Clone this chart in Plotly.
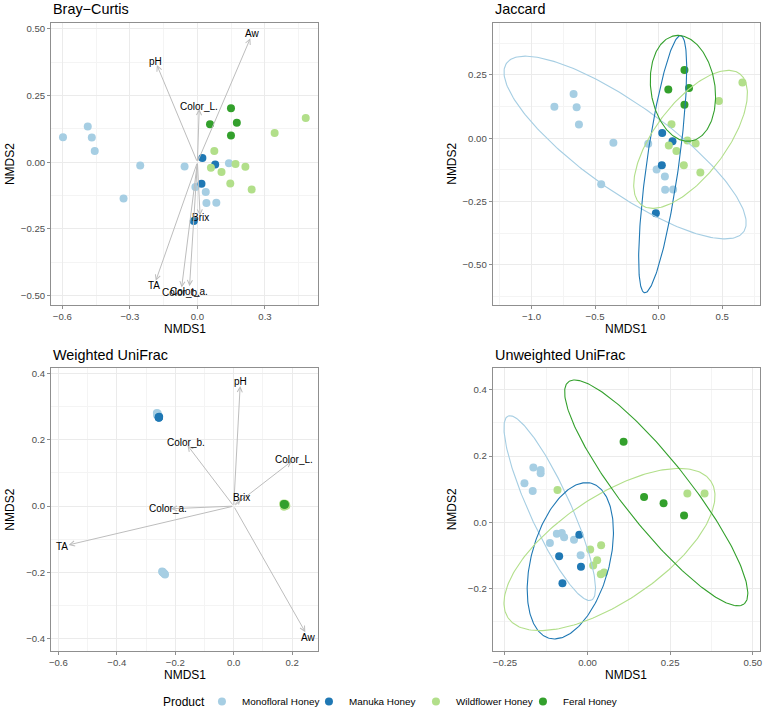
import numpy as np
import plotly.graph_objects as go

# ---------------- data ----------------
groups = ["Monofloral Honey", "Manuka Honey", "Wildflower Honey", "Feral Honey"]
group_colors = ["#A6CEE3", "#1F78B4", "#B2DF8A", "#33A02C"]

# Bray-Curtis
bc_mono_x = [-0.597, -0.487, -0.469, -0.456, -0.254, -0.328, -0.057, -0.009, 0.037, 0.040, 0.084, 0.140]
bc_mono_y = [0.094, 0.134, 0.093, 0.042, -0.012, -0.136, -0.016, -0.093, -0.112, -0.153, -0.152, -0.004]
bc_manuka_x = [0.022, 0.079, 0.018, -0.016]
bc_manuka_y = [0.016, -0.008, -0.081, -0.220]
bc_wild_x = [0.481, 0.343, 0.075, 0.060, 0.107, 0.169, 0.213, 0.146, 0.241]
bc_wild_y = [0.166, 0.110, 0.042, -0.021, -0.037, -0.007, -0.017, -0.080, -0.102]
bc_feral_x = [0.149, 0.056, 0.175, 0.149]
bc_feral_y = [0.203, 0.143, 0.148, 0.100]

# Jaccard
ja_mono_x = [-0.820, -0.669, -0.645, -0.627, -0.356, -0.452, -0.082, -0.016, 0.049, 0.051, 0.114]
ja_mono_y = [0.124, 0.175, 0.122, 0.054, -0.018, -0.182, -0.022, -0.124, -0.152, -0.204, -0.203]
ja_manuka_x = [0.028, 0.109, 0.025, -0.022]
ja_manuka_y = [0.020, -0.012, -0.107, -0.297]
ja_wild_x = [0.659, 0.474, 0.101, 0.080, 0.140, 0.226, 0.291, 0.198, 0.328]
ja_wild_y = [0.220, 0.147, 0.055, -0.029, -0.051, -0.009, -0.021, -0.107, -0.136]
ja_feral_x = [0.203, 0.076, 0.239, 0.203]
ja_feral_y = [0.270, 0.192, 0.198, 0.132]

# Weighted UniFrac
wu_mono_x = [-0.263, -0.262, -0.261, -0.260, -0.262, -0.261, -0.245, -0.243, -0.240, -0.237, -0.235, -0.242]
wu_mono_y = [0.281, 0.278, 0.276, 0.279, 0.274, 0.277, -0.197, -0.199, -0.202, -0.204, -0.206, -0.200]
wu_manuka_x = [-0.257, -0.256, -0.255, -0.256]
wu_manuka_y = [0.268, 0.267, 0.269, 0.266]
wu_wild_x = [0.169, 0.178, 0.175, 0.171, 0.180, 0.172, 0.179, 0.174, 0.177]
wu_wild_y = [0.006, 0.001, 0.004, 0.008, 0.001, -0.002, 0.003, 0.002, 0.007]
wu_feral_x = [0.172, 0.174, 0.173, 0.175]
wu_feral_y = [0.006, 0.005, 0.004, 0.005]

# Unweighted UniFrac
uu_mono_x = [-0.164, -0.142, -0.142, -0.191, -0.166, -0.093, -0.078, -0.071, -0.114, -0.041, -0.021]
uu_mono_y = [0.165, 0.158, 0.148, 0.118, 0.094, -0.035, -0.033, -0.046, -0.063, -0.053, -0.100]
uu_manuka_x = [-0.025, -0.086, -0.020, -0.076]
uu_manuka_y = [-0.038, -0.103, -0.135, -0.185]
uu_wild_x = [-0.091, 0.008, 0.041, 0.029, 0.017, 0.040, 0.050, 0.302, 0.354]
uu_wild_y = [0.097, -0.083, -0.070, -0.115, -0.131, -0.158, -0.152, 0.087, 0.087]
uu_feral_x = [0.109, 0.171, 0.230, 0.292]
uu_feral_y = [0.243, 0.076, 0.057, 0.020]

# Environmental fit vectors
env_names = ["Aw", "pH", "Color_L.", "Brix", "TA", "Color_a.", "Color_b."]
bc_env_x = [0.235, -0.180, 0.008, 0.012, -0.185, -0.035, -0.070]
bc_env_y = [0.465, 0.365, 0.200, -0.200, -0.445, -0.465, -0.470]
wu_env_x = [0.245, 0.022, 0.198, 0.024, -0.565, -0.215, -0.158]
wu_env_y = [-0.380, 0.362, 0.135, 0.024, -0.117, -0.008, 0.183]

# 95% ellipses: centre, first and second half-axis vectors (data units)
ja_ell_center = [(-0.264, -0.037), (0.0318, -0.1027), (0.251, -0.0046), (0.191, 0.197)]
ja_ell_a = [(0.9317, -0.3336), (0.1417, 0.5084), (0.386, 0.2594), (0.0613, -0.2085)]
ja_ell_b = [(-0.1972, -0.1386), (0.1252, -0.0088), (0.2257, -0.0846), (-0.2494, -0.0185)]
uu_ell_center = [(-0.1145, 0.0424), (-0.0522, -0.1169), (0.0663, -0.0828), (0.2078, 0.0885)]
uu_ell_a = [(0.1263, -0.2784), (0.0636, 0.2344), (0.3065, 0.2072), (0.2658, -0.3360)]
uu_ell_b = [(-0.0570, -0.0257), (0.1140, -0.0308), (0.0894, -0.1316), (-0.0787, -0.0620)]

panel_titles = ["Bray\u2212Curtis", "Jaccard", "Weighted UniFrac", "Unweighted UniFrac"]
legend_title = "Product"

# ---------------- figure ----------------
W, H = 767, 716
FONT = "Liberation Sans, Arial, Helvetica, sans-serif"

fig = go.Figure()

panels = [
    ("x", "y", [(bc_mono_x, bc_mono_y), (bc_manuka_x, bc_manuka_y), (bc_wild_x, bc_wild_y), (bc_feral_x, bc_feral_y)]),
    ("x2", "y2", [(ja_mono_x, ja_mono_y), (ja_manuka_x, ja_manuka_y), (ja_wild_x, ja_wild_y), (ja_feral_x, ja_feral_y)]),
    ("x3", "y3", [(wu_mono_x, wu_mono_y), (wu_manuka_x, wu_manuka_y), (wu_wild_x, wu_wild_y), (wu_feral_x, wu_feral_y)]),
    ("x4", "y4", [(uu_mono_x, uu_mono_y), (uu_manuka_x, uu_manuka_y), (uu_wild_x, uu_wild_y), (uu_feral_x, uu_feral_y)]),
]


def ellipse_path(c, a, b, n=241):
    t = np.linspace(0, 2 * np.pi, n)
    return (c[0] + a[0] * np.cos(t) + b[0] * np.sin(t),
            c[1] + a[1] * np.cos(t) + b[1] * np.sin(t))


for pi, (xa, ya, series) in enumerate(panels):
    for gi, (xs, ys) in enumerate(series):
        fig.add_trace(go.Scatter(
            x=xs, y=ys, mode="markers", xaxis=xa, yaxis=ya,
            name=groups[gi], legendgroup=groups[gi], showlegend=(pi == 0),
            marker=dict(color=group_colors[gi], size=8, line=dict(width=0)),
            hoverinfo="skip"))

for xa, ya, centers, avs, bvs in [("x2", "y2", ja_ell_center, ja_ell_a, ja_ell_b),
                                   ("x4", "y4", uu_ell_center, uu_ell_a, uu_ell_b)]:
    for gi in range(4):
        ex, ey = ellipse_path(centers[gi], avs[gi], bvs[gi])
        fig.add_trace(go.Scatter(
            x=ex, y=ey, mode="lines", xaxis=xa, yaxis=ya, showlegend=False,
            line=dict(color=group_colors[gi], width=1.1), hoverinfo="skip"))

annotations = []
ARROW_C = "#BDBDBD"
LABEL_K = 1.04
for xa, ya, ex, ey in [("x", "y", bc_env_x, bc_env_y), ("x3", "y3", wu_env_x, wu_env_y)]:
    for name, vx, vy in zip(env_names, ex, ey):
        annotations.append(dict(
            x=vx, y=vy, ax=0, ay=0, xref=xa, yref=ya, axref=xa, ayref=ya,
            text="", showarrow=True, arrowhead=5, arrowsize=1.0, arrowwidth=1,
            arrowcolor=ARROW_C, standoff=0, startstandoff=0))
        annotations.append(dict(
            x=vx * LABEL_K, y=vy * LABEL_K, xref=xa, yref=ya, text=name,
            showarrow=False, font=dict(family=FONT, size=10, color="#000000"),
            xanchor="center", yanchor="middle"))

# pixel layout of panels
px_boxes = [
    (49.3, 318.0, 23.0, 307.0),
    (493.3, 761.7, 23.0, 307.0),
    (49.3, 317.7, 370.7, 655.3),
    (493.3, 761.7, 370.7, 655.3),
]
x_ranges = [(-0.65, 0.537), (-1.305, 0.795), (-0.625, 0.2885), (-0.287, 0.521)]
y_ranges = [(-0.535, 0.523), (-0.659, 0.456), (-0.436, 0.416), (-0.389, 0.466)]
x_dticks = [0.3, 0.5, 0.2, 0.25]
y_dticks = [0.25, 0.25, 0.2, 0.2]
x_fmts = [".1f", ".1f", ".1f", ".2f"]
y_fmts = [".2f", ".2f", ".1f", ".1f"]

BORDER = "#8F8F8F"
GRID = "#EBEBEB"
MINOR = "#F4F4F4"
TICKF = dict(family=FONT, size=9.6, color="#4D4D4D")

layout_axes = {}
for i in range(4):
    x0, x1, y0, y1 = px_boxes[i]
    sx = "" if i == 0 else str(i + 1)
    common = dict(showline=True, linecolor=BORDER, linewidth=1, mirror=True,
                  ticks="outside", ticklen=3, tickcolor=BORDER, tickwidth=1,
                  showgrid=True, gridcolor=GRID, gridwidth=1, zeroline=False,
                  tickfont=TICKF, tickmode="linear", tick0=0)
    layout_axes["xaxis" + sx] = dict(
        common, domain=[x0 / W, x1 / W], range=list(x_ranges[i]),
        dtick=x_dticks[i], tickformat=x_fmts[i], anchor="y" + sx,
        minor=dict(dtick=x_dticks[i] / 2, showgrid=True, gridcolor=MINOR, gridwidth=1))
    layout_axes["yaxis" + sx] = dict(
        common, domain=[1 - y1 / H, 1 - y0 / H], range=list(y_ranges[i]),
        dtick=y_dticks[i], tickformat=y_fmts[i], anchor="x" + sx,
        minor=dict(dtick=y_dticks[i] / 2, showgrid=True, gridcolor=MINOR, gridwidth=1))

    # panel title
    annotations.append(dict(
        x=x0 / W, y=1 - (y0 - 13.5) / H, xref="paper", yref="paper",
        text=panel_titles[i], showarrow=False, xanchor="left", yanchor="middle",
        font=dict(family=FONT, size=14.4, color="#000000")))
    # axis titles
    annotations.append(dict(
        x=(x0 + x1) / 2 / W, y=1 - (y1 + 24.5) / H, xref="paper", yref="paper",
        text="NMDS1", showarrow=False, xanchor="center", yanchor="middle",
        font=dict(family=FONT, size=12, color="#000000")))
    annotations.append(dict(
        x=(x0 - 41) / W, y=1 - (y0 + y1) / 2 / H, xref="paper", yref="paper",
        text="NMDS2", showarrow=False, xanchor="center", yanchor="middle", textangle=-90,
        font=dict(family=FONT, size=12, color="#000000")))

# legend title as a text beside the legend entries
annotations.append(dict(
    x=182.5 / W, y=1 - 706.5 / H, xref="paper", yref="paper", text=legend_title,
    showarrow=False, xanchor="center", yanchor="middle",
    font=dict(family=FONT, size=12, color="#000000")))

fig.update_layout(
    width=W, height=H, autosize=False,
    margin=dict(l=0, r=0, t=0, b=0),
    paper_bgcolor="white", plot_bgcolor="white",
    font=dict(family=FONT),
    annotations=annotations,
    showlegend=True,
    legend=dict(orientation="h", x=201 / W, xanchor="left", y=1 - 706.5 / H, yanchor="middle",
                font=dict(family=FONT, size=9.9, color="#000000"),
                bgcolor="rgba(0,0,0,0)", itemwidth=30, traceorder="normal",
                entrywidth=62, entrywidthmode="pixels"),
    **layout_axes,
)

fig.write_html("out.html", include_plotlyjs=True, full_html=True,
               config={"displayModeBar": False},
               post_script="document.body.style.margin='0';")
